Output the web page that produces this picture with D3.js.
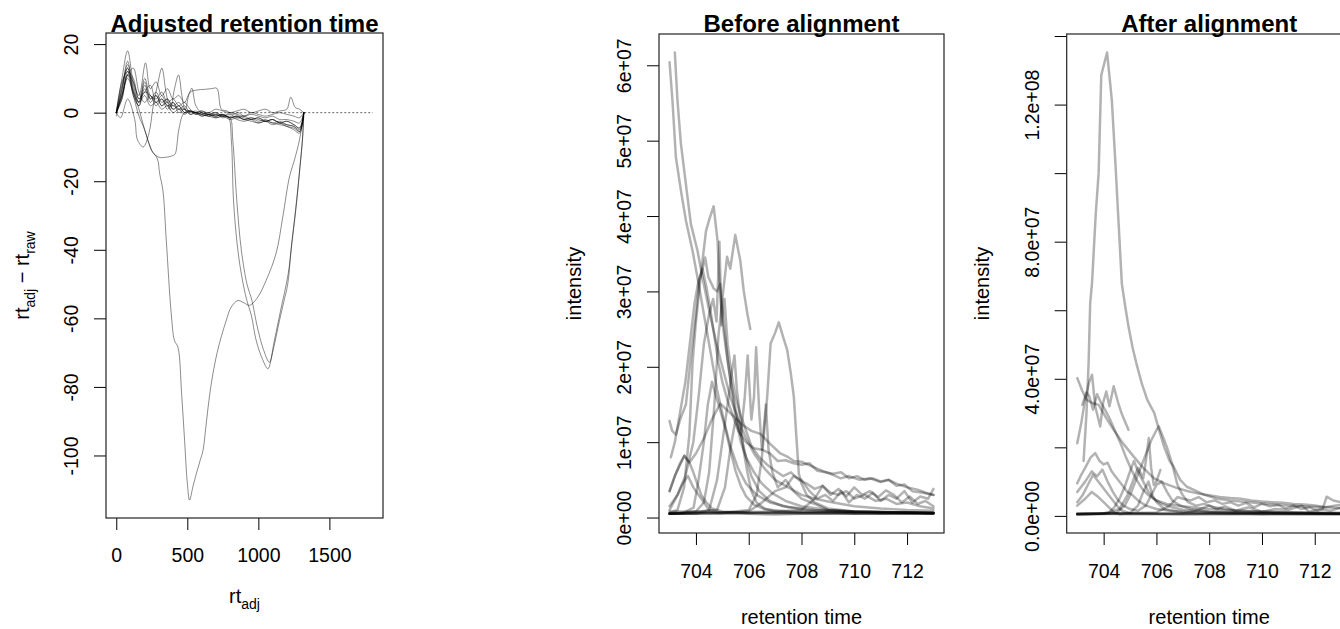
<!DOCTYPE html>
<html>
<head>
<meta charset="utf-8">
<script src="https://cdn.jsdelivr.net/npm/d3@7"></script>
<style>
  body { margin: 0; background: #fff; }
  svg { display: block; font-family: "Liberation Sans", Arial, Helvetica, sans-serif; }
</style>
</head>
<body>
<svg id="chart" width="1340" height="629"></svg>
<script>
// ---------- Panel 1: adjusted retention time deviation (rt_adj, rt_adj - rt_raw) ----------
const rtAdjRange = [0, 1805];
const adjXTicks = [0, 500, 1000, 1500];
const adjYTicks = [20, 0, -20, -40, -60, -80, -100];

const adjDev01 = [[0,0],[40,6],[80,14],[120,8],[160,3],[200,10],[240,5],[280,4],[320,6],[360,3],[400,4],[440,2],[480,3],[520,1],[560,0],[600,0.5],[650,-0.5],[700,0],[750,-1],[800,-0.5],[850,-1.5],[900,-1],[950,-2],[1000,-1.5],[1050,-2.5],[1100,-2],[1150,-3],[1200,-3.5],[1250,-4],[1290,-5],[1320,0]];
const adjDev02 = [[0,0],[40,9],[80,12],[120,10],[160,4],[200,6],[240,8],[280,3],[320,5],[360,2],[400,3],[440,1],[480,2],[520,0],[560,0.5],[600,-0.5],[650,-1],[700,-0.5],[750,-1.5],[800,-1],[850,-2],[900,-2.5],[950,-2],[1000,-3],[1050,-2.5],[1100,-3.5],[1150,-3],[1200,-4],[1250,-4.5],[1290,-5.5],[1320,0]];
const adjDev03 = [[0,-1],[40,7],[80,15],[120,6],[160,2],[200,9],[240,4],[280,6],[320,3],[360,4],[400,2],[440,3],[480,1],[520,0.5],[560,0],[600,-1],[650,-0.5],[700,-1],[750,-0.5],[800,-1.5],[850,-1],[900,-2],[950,-1.5],[1000,-2],[1050,-2.5],[1100,-2],[1150,-3],[1200,-2.5],[1250,-3.5],[1290,-4.5],[1320,0]];
const adjDev04 = [[0,0],[40,4],[80,11],[120,13],[160,6],[200,3],[240,5],[280,2],[320,4],[360,1],[400,3],[440,0],[480,1],[520,-0.5],[560,0],[600,-0.5],[650,-1],[700,-1.5],[750,-1],[800,-2],[850,-1.5],[900,-2],[950,-2.5],[1000,-3],[1050,-2.5],[1100,-3],[1150,-3.5],[1200,-4],[1250,-5],[1290,-6],[1320,0]];
const adjDev05 = [[0,0],[40,8],[80,13],[120,5],[160,2],[200,7],[240,3],[280,5],[320,2],[360,3],[400,1],[440,2],[480,0],[520,0.5],[560,-0.5],[600,0],[650,-0.5],[700,0],[750,-1],[800,0],[850,-0.5],[900,-1],[950,0],[1000,-0.5],[1050,-1],[1100,-0.5],[1150,0],[1200,-0.5],[1250,-1],[1290,-1.5],[1320,0]];
const adjDev06 = [[0,0],[40,5],[80,10],[120,6],[160,3],[200,5],[240,2],[280,3],[320,1],[360,2],[400,0],[440,1],[480,-0.5],[520,0.5],[560,0],[600,0.5],[650,0],[700,1],[750,0.5],[800,0],[850,0.5],[900,1],[950,0],[1000,0.5],[1050,1],[1100,0],[1150,0.5],[1200,1],[1228,4.5],[1260,1.5],[1290,1],[1320,0]];
const adjDev07 = [[0,0],[40,10],[80,18],[120,9],[160,5],[206,14.5],[240,7],[280,9],[320,5],[360,7],[400,4],[440,5],[480,3],[520,6],[567,6.6],[620,6.8],[670,7],[708,7.1],[740,1],[780,0.5],[820,-0.5],[860,0],[900,-1],[950,-0.5],[1000,-1],[1050,-1.5],[1100,-1],[1150,-2],[1200,-2],[1250,-2.5],[1290,-3],[1320,0]];
const adjDev08 = [[0,0],[30,-1.5],[80,4],[130,-2],[150,-8],[190,-10],[230,-6],[260,2],[290,8],[321,13],[350,6],[380,0.8],[410,7],[438,11],[462,5],[485,0.8],[510,5],[532,7.1],[560,2],[600,0],[650,-0.5],[700,-1],[750,-0.5],[800,-1.5],[850,-1],[900,-2],[950,-1.5],[1000,-2.5],[1050,-2],[1100,-3],[1150,-2.5],[1200,-3.5],[1250,-4],[1290,-5.5],[1320,0]];
const adjDev09 = [[0,0],[40,5],[80,11],[120,5],[160,-1],[200,-5],[230,-9],[255,-11.5],[300,-13],[350,-13],[400,-12.5],[415,-12],[440,-5],[470,-0.5],[500,0.5],[550,0],[600,-0.5],[650,0],[700,-1],[750,-0.5],[800,-1.5],[850,-1],[900,-1.5],[950,-2],[1000,-1.5],[1050,-2.5],[1100,-2],[1150,-3],[1200,-2.5],[1250,-3.5],[1290,-4.5],[1320,0]];
const adjDev10 = [[0,0],[40,4],[80,12],[120,6],[160,1],[200,-5],[250,-11],[290,-13.5],[305,-17.7],[328,-22.6],[352,-37.2],[387,-58.7],[410,-66.5],[434,-68.4],[460,-82],[481,-95.7],[500,-108],[516,-113],[540,-109],[563,-105.4],[590,-101.5],[610,-98.6],[633,-90.8],[655,-83],[680,-76.2],[710,-70],[738,-65.5],[775,-60.5],[809,-56.7],[856,-54.8],[900,-55.5],[938,-56.2],[996,-53.8],[1055,-48.9],[1125,-41],[1172,-30.4],[1219,-18.7],[1254,-13.8],[1289,-8],[1320,0]];
const adjDev11 = [[0,0],[40,7],[80,13],[120,7],[160,3],[200,8],[240,4],[280,5],[320,2],[360,4],[400,1],[440,2],[480,0],[520,0.5],[560,-0.5],[600,0],[650,-1],[700,-0.5],[750,-1],[790,-1.5],[810,-8],[825,-25.5],[850,-38],[880,-47],[919,-54.8],[950,-59],[985,-66.5],[1030,-72],[1067,-74.7],[1100,-70],[1149,-60.6],[1180,-55],[1207,-49.9],[1231,-40],[1266,-27.5],[1289,-17.7],[1310,-8],[1320,0]];
const adjDev12 = [[0,0],[40,5],[80,11],[120,9],[160,4],[200,6],[240,5],[280,3],[320,4],[360,2],[400,2],[440,1],[480,1],[520,-0.5],[560,0],[600,-1],[650,-0.5],[700,-1.5],[750,-1],[800,-1.5],[820,-8],[848,-25.5],[880,-40],[920,-50],[955,-54.8],[990,-62],[1035,-69],[1078,-72.8],[1110,-67],[1155,-58],[1210,-47],[1235,-38],[1268,-26],[1292,-16],[1312,-7],[1320,0]];

// ---------- Panels 2 and 3: extracted ion chromatograms, intensity in units of 1e7 ----------
const rtTicks = [704, 706, 708, 710, 712];

const beforeYTicks = [0, 1, 2, 3, 4, 5, 6];
const beforeYLabels = ["0e+00", "1e+07", "2e+07", "3e+07", "4e+07", "5e+07", "6e+07"];

const before01 = [[703.0,6.04],[703.11,5.53],[703.24,4.78],[703.43,4.34],[703.62,3.94],[703.87,3.54],[704.06,3.18],[704.3,2.7],[704.55,2.2],[704.8,1.7],[705.05,1.3],[705.3,0.95],[705.6,0.65],[705.9,0.45],[706.3,0.3],[706.8,0.2],[707.5,0.14],[708.5,0.1],[710,0.08],[711.5,0.07],[713,0.06]];
const before02 = [[703.2,6.17],[703.3,5.53],[703.43,4.96],[703.62,4.42],[703.81,3.89],[704.06,3.54],[704.25,3.18],[704.5,2.75],[704.75,2.35],[705.0,2.0],[705.3,1.6],[705.6,1.3],[705.9,1.05],[706.2,0.85],[706.6,0.65],[707.0,0.5],[707.5,0.4],[708.0,0.3],[708.5,0.25],[709.2,0.2],[710,0.15],[711,0.12],[712,0.1],[713,0.09]];
const before03 = [[703.0,1.28],[703.1,1.15],[703.24,1.1],[703.4,1.3],[703.62,1.5],[703.8,2.1],[704.0,2.7],[704.13,3.15],[704.22,3.25],[704.35,3.45],[704.47,3.19],[704.67,3.04],[704.8,3.0],[704.92,3.1],[705.05,2.6],[705.2,2.1],[705.35,1.7],[705.5,1.35],[705.7,1.0],[705.9,0.8],[706.2,0.6],[706.5,0.45],[706.9,0.32],[707.4,0.22],[708,0.15],[709,0.1],[710,0.08],[711.5,0.07],[713,0.06]];
const before04 = [[703.05,0.8],[703.2,1.0],[703.4,1.4],[703.6,1.8],[703.8,2.4],[703.95,2.85],[704.1,3.15],[704.25,3.3],[704.4,3.05],[704.55,2.75],[704.7,2.4],[704.85,2.05],[705.0,1.8],[705.2,1.55],[705.4,1.35],[705.6,1.15],[705.9,1.0],[706.2,0.92],[706.5,0.9],[706.8,0.85],[707.1,0.75],[707.4,0.76],[707.7,0.72],[708.0,0.7],[708.3,0.72],[708.6,0.62],[708.9,0.6],[709.2,0.58],[709.5,0.6],[709.8,0.52],[710.1,0.55],[710.4,0.5],[710.7,0.52],[711.0,0.48],[711.3,0.5],[711.6,0.42],[711.9,0.44],[712.2,0.35],[712.6,0.33],[713,0.3]];
const before05 = [[703.0,0.06],[703.3,0.1],[703.55,0.4],[703.75,1.1],[703.87,2.04],[704.0,2.6],[704.19,3.23],[704.38,3.8],[704.5,3.95],[704.67,4.13],[704.82,3.67],[704.89,3.14],[705.0,2.6],[705.15,2.2],[705.3,1.85],[705.5,1.45],[705.7,1.1],[705.9,0.8],[706.1,0.55],[706.4,0.35],[706.8,0.22],[707.3,0.15],[708.2,0.1],[709.5,0.08],[713,0.06]];
const before06 = [[703.0,0.05],[703.6,0.06],[704.0,0.08],[704.3,0.2],[704.5,0.6],[704.7,1.5],[704.85,2.4],[705.0,2.9],[705.18,3.46],[705.3,3.3],[705.49,3.75],[705.68,3.41],[705.81,3.01],[705.95,2.7],[706.06,2.5]];
const before07 = [[703.0,0.15],[703.3,0.3],[703.6,0.55],[703.9,1.0],[704.1,1.6],[704.3,2.3],[704.5,2.7],[704.65,2.9],[704.78,2.6],[704.89,3.66],[704.97,2.55],[705.08,2.9],[705.2,2.3],[705.35,1.9],[705.5,1.6],[705.7,1.35],[705.9,1.15],[706.1,0.95],[706.4,0.8],[706.7,0.7],[707.0,0.62],[707.3,0.55],[707.6,0.6],[707.9,0.5],[708.2,0.45],[708.5,0.38],[708.8,0.42],[709.1,0.33],[709.4,0.3],[709.7,0.35],[710.0,0.25],[710.4,0.3],[710.8,0.22],[711.2,0.25],[711.6,0.18],[712.0,0.2],[712.5,0.15],[713,0.12]];
const before08 = [[703.0,0.35],[703.2,0.55],[703.4,0.7],[703.56,0.82],[703.75,0.73],[704.0,0.85],[704.3,1.05],[704.6,1.3],[704.92,1.51],[705.2,1.42],[705.5,1.32],[705.8,1.22],[706.1,1.15],[706.44,1.11],[706.8,0.98],[707.2,0.85],[707.5,0.8],[707.71,0.75],[708.0,0.74],[708.4,0.68],[708.8,0.62],[709.1,0.58],[709.49,0.52],[709.8,0.55],[710.2,0.5],[710.6,0.52],[711.0,0.47],[711.3,0.5],[711.6,0.45],[712.0,0.4],[712.4,0.37],[712.7,0.33],[713,0.3]];
const before09 = [[703.0,0.05],[703.5,0.06],[703.91,0.13],[704.1,0.5],[704.3,1.0],[704.45,1.5],[704.61,1.8],[704.75,1.62],[704.9,1.45],[705.1,1.2],[705.3,0.9],[705.5,0.62],[705.7,0.42],[705.9,0.28],[706.2,0.17],[706.6,0.11],[707.5,0.08],[713,0.06]];
const before10 = [[703.0,0.05],[704,0.05],[705,0.06],[706.0,0.1],[706.3,0.3],[706.5,0.8],[706.7,1.6],[706.83,2.31],[707.0,2.45],[707.14,2.59],[707.3,2.4],[707.46,2.22],[707.6,1.9],[707.71,1.6],[707.8,1.1],[707.9,0.58],[708.0,0.45],[708.2,0.3],[708.5,0.2],[709,0.12],[710,0.08],[711,0.07],[713,0.06]];
const before11 = [[703.0,0.05],[704.8,0.1],[705.1,0.4],[705.3,0.9],[705.5,1.3],[705.7,1.1],[705.85,1.6],[705.96,2.15],[706.1,1.3],[706.2,1.6],[706.28,2.26],[706.4,1.4],[706.5,0.9],[706.65,1.5],[706.75,0.9],[706.9,0.6],[707.1,0.4],[707.4,0.5],[707.7,0.35],[708,0.25],[708.5,0.18],[709,0.1],[710,0.08],[713,0.06]];
const before12 = [[703.0,0.05],[704.0,0.05],[704.5,0.1],[704.8,0.5],[705.0,1.0],[705.2,1.5],[705.35,1.9],[705.46,2.15],[705.55,1.7],[705.65,1.4],[705.8,0.9],[705.95,0.6],[706.1,0.35],[706.3,0.2],[706.6,0.12],[707,0.08],[713,0.06]];
const before13 = [[703.0,0.35],[703.2,0.55],[703.4,0.72],[703.56,0.82],[703.75,0.73],[703.9,0.6],[704.05,0.45],[704.2,0.3],[704.4,0.2],[704.6,0.12],[705,0.08],[706,0.06],[713,0.05]];
const before14 = [[703.0,0.1],[703.3,0.3],[703.5,0.45],[703.7,0.55],[703.9,0.4],[704.1,0.3],[704.3,0.2],[704.5,0.1],[704.8,0.07],[706,0.06],[713,0.05]];
const before15 = [[703.0,0.05],[705,0.06],[706,0.08],[706.5,0.2],[707,0.35],[707.4,0.4],[707.7,0.55],[708.0,0.5],[708.3,0.35],[708.6,0.25],[708.9,0.3],[709.2,0.22],[709.5,0.35],[709.8,0.2],[710.1,0.3],[710.4,0.25],[710.7,0.33],[711.0,0.22],[711.3,0.3],[711.6,0.25],[711.9,0.35],[712.2,0.2],[712.5,0.28],[712.8,0.25],[713,0.38]];
const before16 = [[703.0,0.06],[707,0.08],[708,0.1],[708.5,0.25],[708.8,0.42],[709.1,0.3],[709.4,0.38],[709.7,0.28],[710,0.4],[710.3,0.3],[710.6,0.35],[710.9,0.27],[711.2,0.36],[711.5,0.3],[711.8,0.2],[712.1,0.28],[712.4,0.18],[712.7,0.22],[713,0.15]];
const before17 = [[703.0,0.05],[704,0.06],[705,0.05],[706,0.05],[707,0.04],[708,0.05],[709,0.05],[710,0.06],[711,0.05],[712,0.05],[713,0.05]];
const before18 = [[703.0,0.08],[704,0.08],[705,0.07],[706,0.06],[707,0.07],[708,0.06],[709,0.07],[710,0.05],[711,0.06],[712,0.07],[713,0.06]];

const afterYTicks = [0, 2, 4, 6, 8, 10, 12, 14];
const afterYLabels = ["0.0e+00", "", "4.0e+07", "", "8.0e+07", "", "1.2e+08", ""];

const after01 = [[703.24,1.6],[703.35,3.0],[703.43,4.46],[703.49,6.2],[703.56,6.8],[703.7,8.8],[703.81,10.0],[703.91,12.86],[704.13,13.52],[704.31,12.13],[704.44,10.37],[704.57,8.5],[704.69,6.77],[704.82,6.1],[704.94,5.53],[705.1,4.9],[705.27,4.36],[705.45,3.85],[705.65,3.39],[705.92,3.0],[706.1,2.5],[706.3,2.0],[706.5,1.6],[706.65,1.44],[706.9,1.05],[707.15,0.85],[707.42,0.76],[707.8,0.62],[708.3,0.5],[708.8,0.45],[709.5,0.4],[710.2,0.35],[711,0.3],[711.8,0.27],[712.5,0.25],[713,0.22]];
const after02 = [[703.0,4.02],[703.19,3.65],[703.35,3.39],[703.55,3.3],[703.81,3.24],[704.1,2.85],[704.38,2.51],[704.75,2.1],[705.14,1.73],[705.5,1.4],[705.9,1.1],[706.3,0.95],[706.79,0.81],[707.2,0.72],[707.6,0.65],[708.0,0.6],[708.4,0.55],[708.8,0.52],[709.2,0.5],[709.6,0.45],[710.0,0.42],[710.4,0.4],[710.8,0.38],[711.2,0.35],[711.6,0.33],[712.0,0.3],[712.4,0.25],[712.8,0.3],[713,0.32]];
const after03 = [[703.0,2.12],[703.15,2.7],[703.3,3.4],[703.45,3.9],[703.56,4.12],[703.68,3.2],[703.87,2.61],[703.98,3.3],[704.1,3.63],[704.22,3.2],[704.38,3.78],[704.55,3.3],[704.7,2.95],[704.94,2.51]];
const after04 = [[703.19,3.24],[703.35,3.6],[703.45,3.5],[703.6,3.1],[703.75,3.55],[703.9,3.3],[704.05,3.1],[704.25,2.8],[704.45,2.45],[704.65,2.1],[704.85,1.7],[705.05,1.35],[705.25,1.05],[705.45,0.8],[705.7,0.6],[706.0,0.45],[706.4,0.35],[707,0.28],[708,0.2],[709,0.16],[710,0.13],[711,0.11],[712,0.1],[713,0.09]];
const after05 = [[703.0,0.95],[703.15,1.2],[703.3,1.4],[703.5,1.7],[703.68,1.83],[703.85,1.6],[704.0,1.5],[704.15,1.55],[704.3,1.3],[704.5,1.1],[704.7,0.9],[704.9,0.7],[705.1,0.6],[705.3,0.45],[705.6,0.3],[706,0.2],[706.5,0.15],[707.5,0.1],[709,0.08],[713,0.07]];
const after06 = [[703.0,0.05],[704,0.06],[704.5,0.1],[704.8,0.3],[705.0,0.6],[705.2,1.0],[705.4,1.4],[705.6,1.8],[705.8,2.2],[706.0,2.5],[706.09,2.61],[706.25,2.3],[706.4,2.0],[706.6,1.5],[706.8,0.9],[707.0,0.6],[707.2,0.4],[707.5,0.3],[707.8,0.35],[708.2,0.25],[708.6,0.2],[709,0.15],[710,0.12],[711,0.1],[712,0.08],[713,0.07]];
const after07 = [[703.0,0.05],[704,0.06],[704.6,0.2],[704.9,0.6],[705.1,1.0],[705.3,1.4],[705.5,1.1],[705.6,1.6],[705.71,2.27],[705.8,1.4],[705.9,0.9],[706.0,1.0],[706.15,1.34]];
const after08 = [[703.0,0.4],[703.2,0.6],[703.4,0.9],[703.6,1.2],[703.75,1.05],[703.9,0.9],[704.1,0.7],[704.3,0.5],[704.5,0.3],[704.7,0.15],[705,0.08],[706,0.06],[713,0.05]];
const after09 = [[703.0,0.3],[703.3,0.5],[703.55,0.7],[703.8,0.55],[704.0,0.4],[704.2,0.25],[704.4,0.1],[704.6,0.05],[705.0,0.08],[705.3,0.3],[705.5,0.7],[705.7,1.0],[705.85,0.6],[706.0,0.4],[706.3,0.2],[707,0.1],[713,0.06]];
const after10 = [[703.0,0.05],[706,0.1],[706.5,0.3],[706.8,0.55],[707.0,0.5],[707.3,0.45],[707.6,0.55],[707.9,0.4],[708.2,0.45],[708.5,0.35],[708.8,0.4],[709.1,0.3],[709.4,0.38],[709.7,0.25],[710,0.35],[710.3,0.28],[710.6,0.32],[710.9,0.22],[711.2,0.3],[711.5,0.2],[711.8,0.25],[712.1,0.15],[712.3,0.2],[712.45,0.56],[712.7,0.45],[713,0.4]];
const after11 = [[703.0,0.06],[707,0.08],[707.5,0.15],[708,0.3],[708.3,0.2],[708.6,0.28],[709,0.15],[709.5,0.25],[710,0.12],[710.5,0.2],[711,0.18],[711.5,0.3],[711.8,0.12],[712.2,0.2],[712.6,0.15],[713,0.25]];
const after12 = [[703.0,0.7],[703.3,1.0],[703.55,1.3],[703.75,1.15],[703.95,1.35],[704.15,1.0],[704.35,0.7],[704.55,0.45],[704.75,0.3],[705,0.2],[705.3,0.15],[705.6,0.3],[705.8,0.6],[706.0,0.9],[706.2,1.0],[706.4,0.7],[706.6,0.45],[706.9,0.3],[707.3,0.2],[708,0.12],[709,0.09],[713,0.06]];
const after13 = [[703.0,0.05],[703.8,0.06],[704.2,0.1],[704.4,0.25],[704.6,0.5],[704.8,0.85],[705.0,1.3],[705.15,1.6],[705.3,1.3],[705.5,1.0],[705.7,0.7],[705.9,0.5],[706.2,0.35],[706.6,0.25],[707,0.18],[708,0.12],[713,0.07]];
const after14 = [[703.0,0.05],[704,0.06],[705,0.05],[706,0.05],[707,0.04],[708,0.05],[709,0.05],[710,0.06],[711,0.05],[712,0.05],[713,0.05]];
const after15 = [[703.0,0.08],[704,0.08],[705,0.07],[706,0.06],[707,0.07],[708,0.06],[709,0.07],[710,0.05],[711,0.06],[712,0.07],[713,0.06]];

const adjSeries = [adjDev01, adjDev02, adjDev03, adjDev04, adjDev05, adjDev06, adjDev07, adjDev08, adjDev09, adjDev10, adjDev11, adjDev12];
const beforeSeries = [before01, before02, before03, before04, before05, before06, before07, before08, before09, before10,
                      before11, before12, before13, before14, before15, before16, before17, before18];
const afterSeries = [after01, after02, after03, after04, after05, after06, after07, after08, after09, after10,
                     after11, after12, after13, after14, after15];

// ---------- drawing ----------
const svg = d3.select("#chart");
const TICK_FONT = 19.5;
const TITLE_FONT = 20;
const FONT = '"Liberation Sans", Arial, Helvetica, sans-serif';

// R-style axis range: data extent widened by 4% on each side
function pad4(ext) {
  const r = ext[1] - ext[0];
  return [ext[0] - 0.04 * r, ext[1] + 0.04 * r];
}

function addSubText(sel, parts) {
  let down = false;
  parts.forEach(([t, sub]) => {
    const ts = sel.append("tspan").text(t);
    if (sub) {
      ts.attr("font-size", 14);
      if (!down) { ts.attr("dy", 6); down = true; }
    } else if (down) {
      ts.attr("dy", -6); down = false;
    }
  });
}

function drawPanel(cfg, idx) {
  const b = cfg.box;
  const g = svg.append("g");
  const pts = cfg.series.flat();
  const xExt = d3.extent(pts.map(p => p[0]).concat(cfg.extraX || []));
  const yExt = d3.extent(pts.map(p => p[1]));
  const x = d3.scaleLinear().domain(pad4(xExt)).range([b.x0, b.x1]);
  const y = d3.scaleLinear().domain(pad4(yExt)).range([b.y1, b.y0]);

  const clipId = "clip" + idx;
  g.append("clipPath").attr("id", clipId)
    .append("rect").attr("x", b.x0).attr("y", b.y0)
    .attr("width", b.x1 - b.x0).attr("height", b.y1 - b.y0);
  const plot = g.append("g").attr("clip-path", `url(#${clipId})`);

  if (cfg.zeroLine) {
    plot.append("line")
      .attr("x1", x(cfg.extraX[0])).attr("x2", x(cfg.extraX[1]))
      .attr("y1", y(0)).attr("y2", y(0))
      .attr("stroke", "#666").attr("stroke-width", 1)
      .attr("stroke-dasharray", "2,2");
  }

  const line = d3.line().x(d => x(d[0])).y(d => y(d[1])).curve(cfg.curve);
  plot.selectAll("path.trace").data(cfg.series).join("path")
    .attr("class", "trace")
    .attr("d", line)
    .attr("fill", "none")
    .attr("stroke", "#000")
    .attr("stroke-opacity", cfg.opacity)
    .attr("stroke-width", cfg.width)
    .attr("stroke-linejoin", "round")
    .attr("stroke-linecap", "round");

  // x axis
  const xa = g.append("g").attr("transform", `translate(0,${b.y1})`)
    .call(d3.axisBottom(x).tickValues(cfg.xTicks).tickFormat((d, i) => cfg.xLabels[i]).tickSize(12));
  xa.select(".domain").remove();
  xa.selectAll(".tick line").attr("stroke", "#000").attr("stroke-width", 1);
  xa.selectAll(".tick text")
    .attr("y", cfg.xLabelBase).attr("dy", null)
    .attr("fill", "#000").attr("font-size", TICK_FONT)
    .attr("font-family", FONT);

  // y axis with labels running parallel to the axis
  const ya = g.append("g").attr("transform", `translate(${b.x0},0)`)
    .call(d3.axisLeft(y).tickValues(cfg.yTicks).tickFormat((d, i) => cfg.yLabels[i]).tickSize(12));
  ya.select(".domain").remove();
  ya.selectAll(".tick line").attr("stroke", "#000").attr("stroke-width", 1);
  ya.selectAll(".tick text")
    .attr("transform", "rotate(-90)")
    .attr("x", 0).attr("y", -28).attr("dy", null)
    .attr("text-anchor", "middle")
    .attr("fill", "#000").attr("font-size", TICK_FONT)
    .attr("font-family", FONT);

  // frame
  g.append("rect").attr("x", b.x0).attr("y", b.y0)
    .attr("width", b.x1 - b.x0).attr("height", b.y1 - b.y0)
    .attr("fill", "none").attr("stroke", "#222").attr("stroke-width", 1.2);

  // main title
  g.append("text").attr("x", (b.x0 + b.x1) / 2).attr("y", 32)
    .attr("text-anchor", "middle").attr("font-weight", "bold").attr("font-size", 24)
    .text(cfg.title);

  // axis titles
  const xt = g.append("text").attr("x", (b.x0 + b.x1) / 2).attr("y", cfg.xTitleBase)
    .attr("text-anchor", "middle").attr("font-size", TITLE_FONT);
  addSubText(xt, cfg.xTitle);
  const yt = g.append("text")
    .attr("transform", `translate(${cfg.yTitleX},${(b.y0 + b.y1) / 2}) rotate(-90)`)
    .attr("text-anchor", "middle").attr("font-size", TITLE_FONT);
  addSubText(yt, cfg.yTitle);
}

drawPanel({
  box: { x0: 106, x1: 383, y0: 33, y1: 518 },
  series: adjSeries, extraX: rtAdjRange, zeroLine: true,
  curve: d3.curveCatmullRom.alpha(0.5), opacity: 0.45, width: 1,
  xTicks: adjXTicks, xLabels: adjXTicks.map(String), xLabelBase: 44,
  yTicks: adjYTicks, yLabels: adjYTicks.map(String),
  title: "Adjusted retention time",
  xTitle: [["rt", false], ["adj", true]], xTitleBase: 603,
  yTitle: [["rt", false], ["adj", true], [" \u2212 rt", false], ["raw", true]], yTitleX: 29
}, 1);

drawPanel({
  box: { x0: 659, x1: 944, y0: 34, y1: 533 },
  series: beforeSeries,
  curve: d3.curveLinear, opacity: 0.3, width: 2.5,
  xTicks: rtTicks, xLabels: rtTicks.map(String), xLabelBase: 45,
  yTicks: beforeYTicks, yLabels: beforeYLabels,
  title: "Before alignment",
  xTitle: [["retention time", false]], xTitleBase: 624,
  yTitle: [["intensity", false]], yTitleX: 581
}, 2);

drawPanel({
  box: { x0: 1066.7, x1: 1351.7, y0: 34, y1: 533 },
  series: afterSeries,
  curve: d3.curveLinear, opacity: 0.3, width: 2.5,
  xTicks: rtTicks, xLabels: rtTicks.map(String), xLabelBase: 45,
  yTicks: afterYTicks, yLabels: afterYLabels,
  title: "After alignment",
  xTitle: [["retention time", false]], xTitleBase: 624,
  yTitle: [["intensity", false]], yTitleX: 989
}, 3);
</script>
</body>
</html>
